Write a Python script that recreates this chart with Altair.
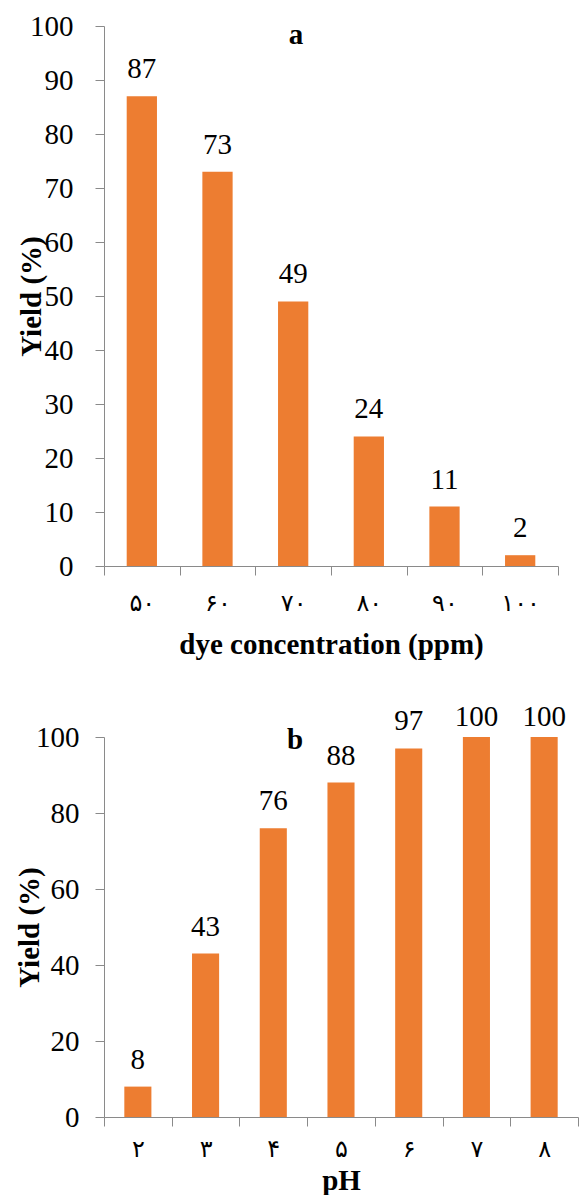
import altair as alt
import pandas as pd

# ---- data ----
conc_labels = ["۵۰", "۶۰", "۷۰", "۸۰", "۹۰", "۱۰۰"]
conc_yield = [87, 73, 49, 24, 11, 2]
ph_labels = ["۲", "۳", "۴", "۵", "۶", "۷", "۸"]
ph_yield = [8, 43, 76, 88, 97, 100, 100]
panel_letters = ["a", "b"]

ORANGE = "#ED7D31"
GRAY = "#8a8a8a"
SERIF = "Times New Roman, Liberation Serif, DejaVu Serif, serif"
FS = 29


def panel(labels, values, letter, width, height, step, xtitle,
          letter_x, letter_y, label_pad, title_x, xlab_pad, xtitle_pad):
    df = pd.DataFrame({"cat": labels, "yield": values})
    x = alt.X(
        "cat:N", sort=labels, title=xtitle,
        scale=alt.Scale(paddingInner=0, paddingOuter=0),
        axis=alt.Axis(
            labelAngle=0, tickBand="extent", tickSize=9, tickColor=GRAY,
            domainColor=GRAY, labelFont="DejaVu Sans", labelFontSize=24,
            labelColor="black", labelPadding=xlab_pad, labelBaseline="top",
            titleFont=SERIF, titleFontSize=FS, titleFontWeight="bold",
            titleColor="black", titlePadding=xtitle_pad,
        ),
    )
    y = alt.Y(
        "yield:Q",
        scale=alt.Scale(domain=[0, 100], nice=False),
        axis=alt.Axis(
            values=list(range(0, 101, step)), tickSize=9, tickColor=GRAY,
            domainColor=GRAY, grid=False, labelFont=SERIF, labelFontSize=FS,
            labelColor="black", labelPadding=label_pad,
            title="Yield (%)", titleFont=SERIF, titleFontSize=FS,
            titleFontWeight="bold", titleColor="black",
            titleX=title_x, titleY=height / 2, titleAngle=270,
            titleAlign="center", titleBaseline="middle",
        ),
    )
    base = alt.Chart(df)
    bars = base.mark_bar(color=ORANGE, width=alt.RelativeBandSize(0.4)).encode(x=x, y=y)
    lab_low = base.transform_filter("datum.yield < 100").mark_text(
        font=SERIF, fontSize=FS, baseline="alphabetic", dy=-18, color="black"
    ).encode(x=alt.X("cat:N", sort=labels), y="yield:Q", text="yield:Q")
    lab_top = base.transform_filter("datum.yield >= 100").mark_text(
        font=SERIF, fontSize=FS, baseline="alphabetic", dy=-11, color="black"
    ).encode(x=alt.X("cat:N", sort=labels), y="yield:Q", text="yield:Q")
    letter_df = pd.DataFrame({"t": [letter]})
    let = alt.Chart(letter_df).mark_text(
        font=SERIF, fontSize=FS, fontWeight="bold", baseline="alphabetic",
        align="center", color="black"
    ).encode(x=alt.value(letter_x), y=alt.value(letter_y), text="t:N")
    return alt.layer(bars, lab_low, lab_top, let).properties(width=width, height=height)


chart_a = panel(conc_labels, conc_yield, panel_letters[0], 454, 540, 10,
                "dye concentration (ppm)", 192, 18, 22, -73, 16, 15)
chart_b = panel(ph_labels, ph_yield, panel_letters[1], 474, 380, 20,
                "pH", 191, 12, 16, -75, 11, 5)

chart = alt.vconcat(chart_a, chart_b, spacing=44).properties(
    padding={"top": 12, "left": 15, "right": 0, "bottom": 0}
).configure_view(stroke=None)

chart.save("out.html", embed_options={"renderer": "svg", "actions": False})
